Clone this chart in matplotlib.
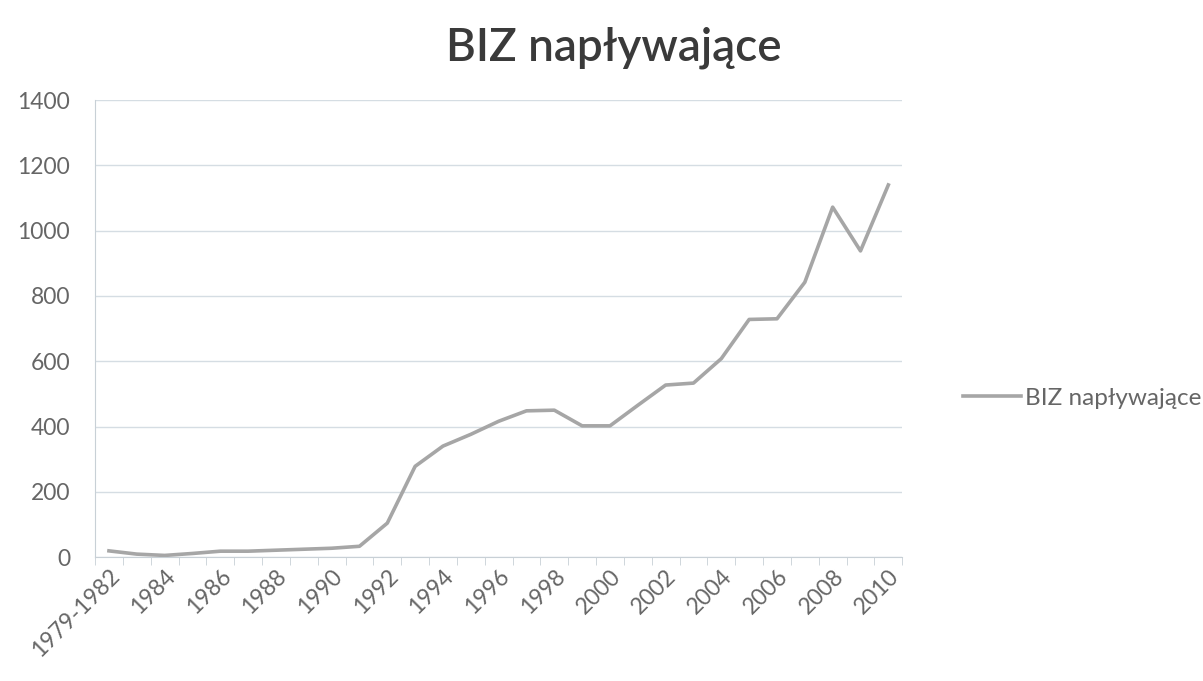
import matplotlib.pyplot as plt
from matplotlib.ticker import FixedLocator

plt.rcParams['font.family'] = ['Lato', 'DejaVu Sans']

categories = ["1979-1982"] + [str(y) for y in range(1983, 2011)]
values = [19, 9, 5, 11, 18, 18, 21, 24, 27, 33, 104, 278, 340, 376, 416,
          448, 450, 402, 402, 465, 527, 533, 608, 728, 730, 842, 1072, 938, 1140]
series_name = "BIZ napływające"
y_ticks = [0, 200, 400, 600, 800, 1000, 1200, 1400]

fig = plt.figure(figsize=(12.03, 6.81), dpi=100)
ax = fig.add_axes([0.079, 0.182, 0.671, 0.671])

x = list(range(len(categories)))
ax.plot(x, values, color='#a6a6a6', linewidth=2.6, label=series_name)

ax.set_xlim(-0.5, len(categories) - 0.5)
ax.set_ylim(0, 1400)
ax.set_yticks(y_ticks)
ax.set_yticklabels([str(v) for v in y_ticks])
ax.grid(axis='y', color='#d5dde3', linewidth=1)
ax.set_axisbelow(True)

# category labels every second year, boundary tick marks like the original
ax.set_xticks(x[::2])
ax.set_xticklabels(categories[::2], rotation=45, ha='right', va='top',
                   rotation_mode='anchor')
ax.xaxis.set_minor_locator(FixedLocator([i - 0.5 for i in range(len(categories) + 1)]))
ax.tick_params(axis='x', which='major', length=0, pad=6)
ax.tick_params(axis='x', which='minor', length=6, color='#c8d0d6')
ax.tick_params(axis='y', length=0, pad=18)
ax.tick_params(labelsize=16.5, labelcolor='#666666')

for side in ['top', 'right']:
    ax.spines[side].set_visible(False)
ax.spines['left'].set_color('#c8d0d6')
ax.spines['bottom'].set_color('#c8d0d6')

fig.text(0.51, 0.93, series_name, ha='center', va='center',
         fontsize=33, fontweight='semibold', color='#3a3a3a')

fig.legend(loc='center left', bbox_to_anchor=(0.782, 0.415), frameon=False,
           fontsize=17.5, handlelength=2.4, handletextpad=0.15, labelcolor='#666666')

fig.savefig('out.png', dpi=100)
